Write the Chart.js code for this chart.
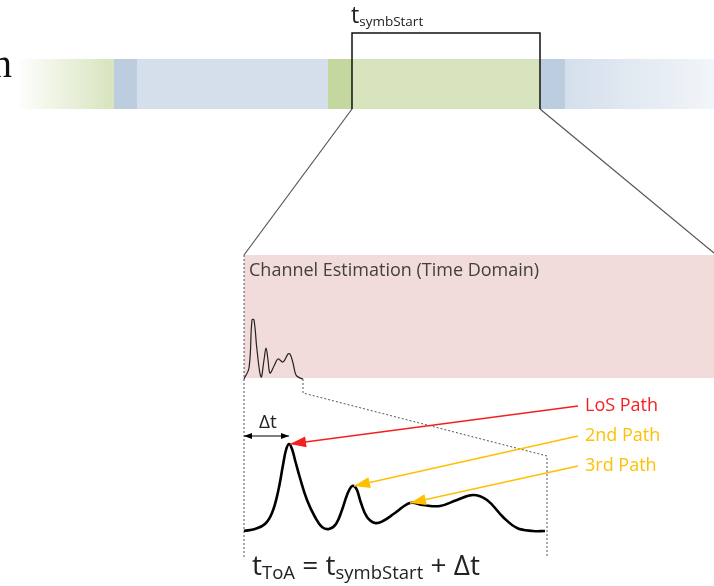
<!DOCTYPE html>
<html>
<head>
<meta charset="utf-8">
<script src="https://cdn.jsdelivr.net/npm/chart.js@4.4.1/dist/chart.umd.min.js"></script>
<style>
  html, body { margin: 0; padding: 0; background: #fff; }
  #wrap { width: 714px; height: 586px; position: relative; }
</style>
</head>
<body>
<div id="wrap"><canvas id="diagram"></canvas></div>
<script>
// frame strip segments (time axis)
const stripEdges = [20, 114, 137, 328, 352, 541, 565, 714];
const stripKinds = ['fadeGreen', 'cpBlue', 'blue', 'cpGreen', 'green', 'cpBlue', 'fadeBlue'];

// channel impulse response, zoomed view
const waveX = [244, 255, 265, 272, 278, 283, 286, 289, 292, 295, 300, 307, 315, 322, 329, 336,
  342, 347, 351, 354, 357, 361, 367, 375, 383, 395, 410, 423, 440, 457, 473, 487, 503, 517, 533, 545];
const waveY = [531, 529, 524, 513, 492, 465, 450, 444, 449, 460, 478, 500, 517, 527, 529, 524,
  510, 495, 487, 486, 490, 503, 517, 523, 521, 513, 503, 505, 506, 500, 495, 500, 517, 528, 531, 531];

// same response, small view inside the estimation window
const miniX = [244, 249, 252, 254, 257, 261, 264, 266, 268, 270, 274, 278, 283, 288, 290, 293, 296, 300, 303];
const miniY = [379, 368, 320, 320, 350, 377, 360, 348, 360, 373, 366, 359, 362, 354, 354, 363, 375, 378, 379];

// multipath labels and where their arrows point
const pathNames = ['LoS Path', '2nd Path', '3rd Path'];
const pathLabelY = [406, 436, 466];
const pathTipX = [290, 354, 410];
const pathTipY = [444, 486, 503];

const SANS = '"Open Sans", "Noto Sans", sans-serif';
const RED = '#f51f1f';
const GOLD = '#ffc000';

const pt = (xs, ys) => xs.map((v, i) => ({ x: v, y: ys[i] }));
const rect = (x0, x1, y0, y1) => [
  { x: x0, y: y0 }, { x: x1, y: y0 }, { x: x1, y: y1 }, { x: x0, y: y1 }, { x: x0, y: y0 }
];

const solidFill = {
  cpBlue: '#bdcde0',
  blue: '#d4dfeb',
  cpGreen: '#c4d79f',
  green: '#d7e4bd'
};

function stripColor(kind, x0, x1) {
  return (ctx) => {
    if (solidFill[kind]) return solidFill[kind];
    const chart = ctx.chart;
    if (!chart.chartArea) return 'rgba(0,0,0,0)';
    const px0 = chart.scales.x.getPixelForValue(x0);
    const px1 = chart.scales.x.getPixelForValue(x1);
    const g = chart.ctx.createLinearGradient(px0, 0, px1, 0);
    if (kind === 'fadeGreen') {
      g.addColorStop(0, 'rgba(215,228,189,0.05)');
      g.addColorStop(1, 'rgba(215,228,189,1)');
    } else {
      g.addColorStop(0, 'rgba(212,223,235,1)');
      g.addColorStop(1, 'rgba(242,245,249,1)');
    }
    return g;
  };
}

const datasets = [];

// strip blocks
stripKinds.forEach((kind, i) => {
  datasets.push({
    data: rect(stripEdges[i], stripEdges[i + 1], 59, 109),
    backgroundColor: stripColor(kind, stripEdges[i], stripEdges[i + 1]),
    borderWidth: 0,
    fill: 'shape',
    order: 10
  });
});

// estimation window
datasets.push({
  data: rect(244, 714, 255, 378),
  backgroundColor: '#f2dcdb',
  borderWidth: 0,
  fill: 'shape',
  order: 10
});

// symbol bracket
datasets.push({
  data: [{ x: 352, y: 109 }, { x: 352, y: 33 }, { x: 540, y: 33 }, { x: 540, y: 109 }],
  borderColor: '#111', borderWidth: 1.5, order: 5
});

// zoom lines
datasets.push({
  data: [{ x: 352, y: 109 }, { x: 244, y: 255 }],
  borderColor: '#555', borderWidth: 1.2, order: 5
});
datasets.push({
  data: [{ x: 540, y: 109 }, { x: 714, y: 253 }],
  borderColor: '#555', borderWidth: 1.2, order: 5
});

// dashed zoom outline
datasets.push({
  data: [{ x: 244, y: 255 }, { x: 244, y: 557 }],
  borderColor: '#555', borderWidth: 1, borderDash: [2, 2], order: 5
});
datasets.push({
  data: [{ x: 303, y: 379 }, { x: 303, y: 393 }, { x: 547, y: 456 }, { x: 547, y: 557 }],
  borderColor: '#555', borderWidth: 1, borderDash: [2, 2], order: 5
});

// small response
datasets.push({
  data: pt(miniX, miniY),
  borderColor: '#222', borderWidth: 1.2,
  tension: 0.4, order: 4
});

// large response
datasets.push({
  data: pt(waveX, waveY),
  borderColor: '#000', borderWidth: 2.6,
  tension: 0.4, order: 3
});

// delta t arrow
datasets.push({
  data: [{ x: 244, y: 436 }, { x: 289, y: 436 }],
  borderColor: '#000', borderWidth: 1.2, order: 2,
  arrow: 'both', headLen: 8, headWid: 6
});

// path arrows
pathNames.forEach((name, i) => {
  datasets.push({
    data: [{ x: 578, y: pathLabelY[i] }, { x: pathTipX[i], y: pathTipY[i] }],
    borderColor: i === 0 ? RED : GOLD, borderWidth: 1.4, order: 1,
    arrow: 'end', headLen: 16, headWid: 11
  });
});

function head(ctx, tx, ty, fx, fy, len, wid, color) {
  const a = Math.atan2(ty - fy, tx - fx);
  ctx.save();
  ctx.translate(tx, ty);
  ctx.rotate(a);
  ctx.beginPath();
  ctx.moveTo(0, 0);
  ctx.lineTo(-len, -wid / 2);
  ctx.lineTo(-len, wid / 2);
  ctx.closePath();
  ctx.fillStyle = color;
  ctx.fill();
  ctx.restore();
}

const arrowPlugin = {
  id: 'arrowHeads',
  afterDatasetsDraw(chart) {
    const ctx = chart.ctx;
    chart.data.datasets.forEach((ds, i) => {
      if (!ds.arrow) return;
      const pts = chart.getDatasetMeta(i).data;
      const a = pts[pts.length - 2], b = pts[pts.length - 1];
      head(ctx, b.x, b.y, a.x, a.y, ds.headLen, ds.headWid, ds.borderColor);
      if (ds.arrow === 'both') {
        head(ctx, pts[0].x, pts[0].y, pts[1].x, pts[1].y, ds.headLen, ds.headWid, ds.borderColor);
      }
    });
  }
};

// rich text: list of [text, size, dy]
function rich(ctx, x, y, parts, color) {
  ctx.fillStyle = color;
  ctx.textBaseline = 'alphabetic';
  ctx.textAlign = 'left';
  let cx = x;
  parts.forEach(([t, size, dy]) => {
    ctx.font = size + 'px ' + SANS;
    ctx.fillText(t, cx, y + dy);
    cx += ctx.measureText(t).width;
  });
}

const textPlugin = {
  id: 'texts',
  afterDraw(chart) {
    const ctx = chart.ctx;
    const X = v => chart.scales.x.getPixelForValue(v);
    const Y = v => chart.scales.y.getPixelForValue(v);
    ctx.save();

    ctx.font = '40px "Liberation Serif", "DejaVu Serif", serif';
    ctx.fillStyle = '#111';
    ctx.textBaseline = 'alphabetic';
    ctx.fillText('n', X(-8), Y(77));

    rich(ctx, X(351), Y(23), [['t', 23, 0], ['symbStart', 13.5, 3]], '#222');

    ctx.font = '18px ' + SANS;
    ctx.fillStyle = '#404040';
    ctx.textBaseline = 'middle';
    ctx.fillText('Channel Estimation (Time Domain)', X(249), Y(271));

    ctx.font = '19px ' + SANS;
    ctx.fillStyle = '#222';
    ctx.textAlign = 'center';
    ctx.fillText('\u0394t', X(268), Y(423));

    ctx.textAlign = 'left';
    ctx.font = '18px ' + SANS;
    pathNames.forEach((name, i) => {
      ctx.fillStyle = i === 0 ? RED : GOLD;
      ctx.fillText(name, X(585), Y(pathLabelY[i]));
    });

    rich(ctx, X(252), Y(575), [
      ['t', 28, 0], ['ToA', 18.5, 4], [' = t', 28, 0], ['symbStart', 18.5, 4], [' + \u0394t', 28, 0]
    ], '#222');

    ctx.restore();
  }
};

const chart = new Chart(document.getElementById('diagram'), {
  type: 'line',
  data: { datasets },
  options: {
    responsive: true,
    maintainAspectRatio: false,
    animation: false,
    events: [],
    layout: { padding: 0 },
    elements: { point: { radius: 0 }, line: { borderCapStyle: 'butt', borderJoinStyle: 'miter' } },
    datasets: { line: { clip: false } },
    scales: {
      x: { type: 'linear', min: 0, max: 714, display: false },
      y: { type: 'linear', min: 0, max: 586, reverse: true, display: false }
    },
    plugins: { legend: { display: false }, tooltip: { enabled: false } }
  },
  plugins: [arrowPlugin, textPlugin]
});
</script>
</body>
</html>
